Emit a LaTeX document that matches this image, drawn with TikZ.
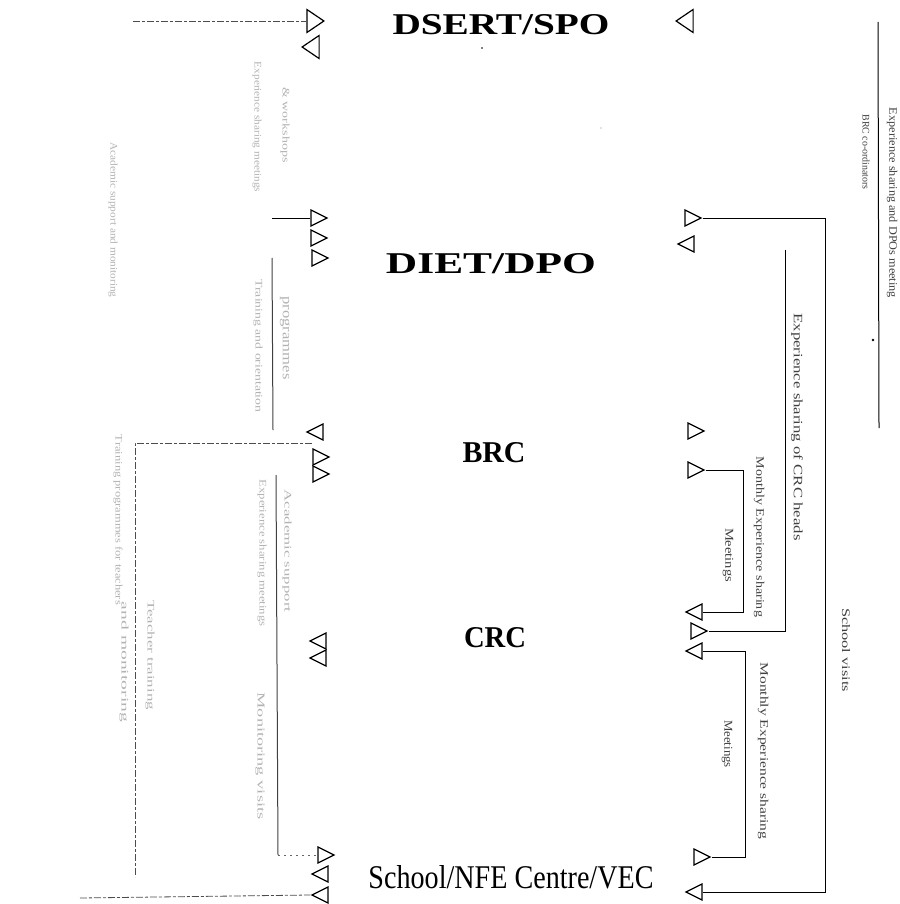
\documentclass[tikz,border=0pt]{standalone}
\usepackage{graphicx}
\usepackage{fontspec}
\setmainfont{Liberation Serif}
\usetikzlibrary{shapes.geometric}
\newcommand{\fitwh}[3]{\resizebox{#1}{#2}{#3}}
\begin{document}
\begin{tikzpicture}[x=1pt,y=-1pt,
  tri/.style={isosceles triangle, isosceles triangle stretches, draw, line width=1.2pt,
     inner sep=0pt, minimum height=16pt, minimum width=16pt},
  trir/.style={tri, shape border rotate=0},
  tril/.style={tri, shape border rotate=180},
  big/.style={minimum height=17pt, minimum width=23pt},
  link/.style={line width=1pt},
  glink/.style={line width=1pt, black!75},
  dlink/.style={line width=0.8pt, black!70, dash pattern=on 7pt off 2pt on 3pt off 2pt},
  title/.style={inner sep=0pt, anchor=base},
  rlab/.style={rotate=-90, inner sep=0pt, text=black!75},
  flab/.style={rotate=-90, inner sep=0pt, text=black!30}]
\useasboundingbox (0,0) rectangle (899,904);

% titles
\node[title] (dsert) at (501,35) {\fitwh{217pt}{20pt}{\bfseries DSERT/SPO}};
\node[title] (diet) at (491,273) {\fitwh{210pt}{20pt}{\bfseries DIET/DPO}};
\node[title] (brc) at (494,462) {\fitwh{63pt}{20pt}{\bfseries BRC}};
\node[title] (crc) at (495,647) {\fitwh{62pt}{20pt}{\bfseries CRC}};
\node[title] (school) at (511,888) {\fitwh{285pt}{23pt}{School/NFE Centre/VEC}};

% left triangles
\node[trir,big] (L1) at (313,21) {};
\node[tril,big] (L2) at (313,47) {};
\node[trir] (L3) at (316,218) {};
\node[trir] (L4) at (316,238) {};
\node[trir] (L5) at (317,258) {};
\node[tril] (L6) at (318,432) {};
\node[trir] (L7) at (318,457) {};
\node[trir] (L8) at (318,474) {};
\node[tril] (L9) at (321,641) {};
\node[tril] (L10) at (321,658) {};
\node[trir] (L11) at (323,855) {};
\node[tril] (L12) at (323,874) {};
\node[tril] (L13) at (323,895) {};

% right triangles
\node[tril,big] (R1) at (687,21) {};
\node[trir] (R2) at (690,218) {};
\node[tril] (R3) at (689,244) {};
\node[trir] (R4) at (693,431) {};
\node[trir] (R5) at (693,470) {};
\node[tril] (R6) at (697,612) {};
\node[trir] (R7) at (696,631) {};
\node[tril] (R8) at (697,651) {};
\node[trir] (R9) at (699,857) {};
\node[tril] (R10) at (697,892) {};

% left connectors
\coordinate (a1) at (133,21);
\draw[dlink] (a1) -- (L1.180);
\coordinate (a3) at (272,218);
\draw[link] (a3) -- (L3.180);
\coordinate (v1a) at (272,258);
\coordinate (v1b) at (273,430);
\draw[glink] (v1a) -- (v1b);
\coordinate (h2a) at (135,443);
\coordinate (h2b) at (312,443);
\coordinate (h2c) at (135,877);
\draw[dlink] (h2b) -- (h2a) -- (h2c);
\coordinate (v2a) at (276,475);
\coordinate (v2b) at (278,855);
\draw[glink] (v2a) -- (v2b);
\draw[line width=0.8pt, black!60, dash pattern=on 2pt off 4pt] (v2b) -- (L11.180);
\coordinate (a13) at (80,898);
\draw[dlink] (a13) -- (L13.180);

% right connectors
\coordinate (cR) at (825,500);
\draw[link] (R2.0) -| (cR) |- (R10.0);
\coordinate (ci) at (785,250);
\draw[link] (ci) |- (R7.0);
\coordinate (c5) at (743,540);
\draw[link] (R5.0) -| (c5) |- (R6.0);
\coordinate (c8) at (745,750);
\draw[link] (R8.0) -| (c8) |- (R9.0);
\coordinate (tr1) at (878,22);
\coordinate (tr2) at (879,428);
\draw[link] (tr1) -- (tr2);

% dots
\fill (482,48) circle (0.9pt);
\fill[black!50] (601,128) circle (0.7pt);
\fill (873,340) circle (1.4pt);

% right labels
\node[rlab] (t1a) at (892,203) {\fitwh{190pt}{8pt}{Experience sharing and DPOs meeting}};
\node[rlab] (t1b) at (866,152) {\fitwh{75pt}{7pt}{BRC co-ordinators}};
\node[rlab] (t2) at (797,427) {\fitwh{227pt}{9pt}{Experience sharing of CRC heads}};
\node[rlab] (t3a) at (759,537) {\fitwh{160pt}{8pt}{Monthly Experience sharing}};
\node[rlab] (t3b) at (728,555) {\fitwh{54pt}{8pt}{Meetings}};
\node[rlab] (t4a) at (763,751) {\fitwh{177pt}{8pt}{Monthly Experience sharing}};
\node[rlab] (t4b) at (727,744) {\fitwh{48pt}{8pt}{Meetings}};
\node[rlab] (t5) at (846,650) {\fitwh{84pt}{8pt}{School visits}};

% left (faint) labels
\node[flab] (t6a) at (285,125) {\fitwh{75pt}{7pt}{\& workshops}};
\node[flab] (t6b) at (257,127) {\fitwh{130pt}{7pt}{Experience sharing meetings}};
\node[flab] (t7) at (113,220) {\fitwh{155pt}{7pt}{Academic support and monitoring}};
\node[flab] (t8a) at (285,338) {\fitwh{83pt}{7pt}{programmes}};
\node[flab] (t8b) at (258,346) {\fitwh{133pt}{7pt}{Training and orientation}};
\node[flab] (t9) at (118,520) {\fitwh{170pt}{7pt}{Training programmes for teachers}};
\node[flab] (t10a) at (150,655) {\fitwh{110pt}{7pt}{Teacher training}};
\node[flab] (t10b) at (124,662) {\fitwh{120pt}{7pt}{and monitoring}};
\node[flab] (t11a) at (287,551) {\fitwh{123pt}{7pt}{Academic support}};
\node[flab] (t11b) at (262,553) {\fitwh{147pt}{7pt}{Experience sharing meetings}};
\node[flab] (t12) at (260,756) {\fitwh{127pt}{7pt}{Monitoring visits}};
\end{tikzpicture}
\end{document}
